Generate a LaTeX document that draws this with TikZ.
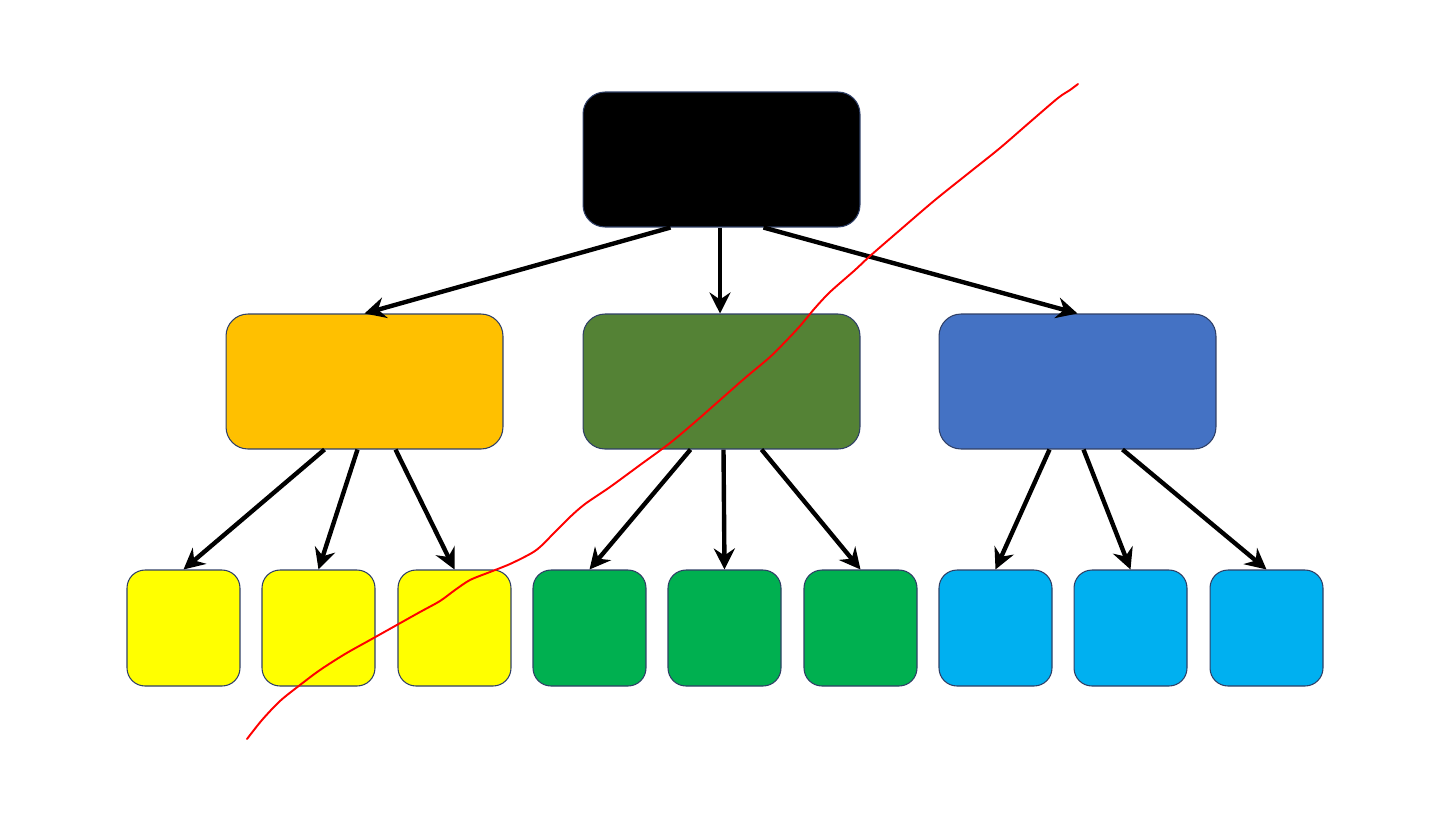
\documentclass[tikz,border=0pt]{standalone}
\usepackage{tikz}
\usetikzlibrary{arrows.meta}
\definecolor{treeedge}{HTML}{2F3F66}
\definecolor{treeorange}{HTML}{FFC000}
\definecolor{treegreen}{HTML}{548235}
\definecolor{treeblue}{HTML}{4472C4}
\definecolor{leafyellow}{HTML}{FFFF00}
\definecolor{leafgreen}{HTML}{00B050}
\definecolor{leafcyan}{HTML}{00B0F0}
\definecolor{scribble}{HTML}{FF0000}

\begin{document}
\begin{tikzpicture}[
        x=0.02cm, y=-0.02cm,
        bigbox/.style={draw=treeedge, line width=0.6pt, rounded corners=0.44cm,
          minimum width=5.54cm, minimum height=2.7cm, inner sep=0pt},
        leafbox/.style={draw=treeedge, line width=0.6pt, rounded corners=0.36cm,
          minimum width=2.26cm, minimum height=2.32cm, inner sep=0pt},
        arr/.style={draw=black, line width=2.5pt,
          -{Stealth[length=0.42cm, width=0.42cm, inset=0.14cm]}},
      ]
      \useasboundingbox (0,0) rectangle (1456,819);

      % Top level
      \node[bigbox, fill=black] (root) at (721.5,159.5) {};

      % Middle level
      \node[bigbox, fill=treeorange] (orange) at (364.5,381.5) {};
      \node[bigbox, fill=treegreen] (green) at (721.5,381.5) {};
      \node[bigbox, fill=treeblue] (blue) at (1077.5,381.5) {};

      % Leaves
      \node[leafbox, fill=leafyellow] (yellowA) at (183.5,628) {};
      \node[leafbox, fill=leafyellow] (yellowB) at (318.5,628) {};
      \node[leafbox, fill=leafyellow] (yellowC) at (454.5,628) {};
      \node[leafbox, fill=leafgreen] (greenA) at (589.5,628) {};
      \node[leafbox, fill=leafgreen] (greenB) at (724.5,628) {};
      \node[leafbox, fill=leafgreen] (greenC) at (860.5,628) {};
      \node[leafbox, fill=leafcyan] (cyanA) at (995.5,628) {};
      \node[leafbox, fill=leafcyan] (cyanB) at (1130.5,628) {};
      \node[leafbox, fill=leafcyan] (cyanC) at (1266.5,628) {};

      % Arrows from the top
      \draw[arr] ([xshift=-1.02cm]root.south) -- (orange.north);
      \draw[arr] ([xshift=-0.03cm]root.south) -- ([xshift=-0.03cm]green.north);
      \draw[arr] ([xshift=0.84cm]root.south) -- (blue.north);

      % Arrows to the leaves
      \draw[arr] ([xshift=-0.8cm]orange.south) -- (yellowA.north);
      \draw[arr] ([xshift=-0.14cm]orange.south) -- (yellowB.north);
      \draw[arr] ([xshift=0.62cm]orange.south) -- (yellowC.north);
      \draw[arr] ([xshift=-0.62cm]green.south) -- (greenA.north);
      \draw[arr] ([xshift=0.04cm]green.south) -- (greenB.north);
      \draw[arr] ([xshift=0.8cm]green.south) -- (greenC.north);
      \draw[arr] ([xshift=-0.56cm]blue.south) -- (cyanA.north);
      \draw[arr] ([xshift=0.12cm]blue.south) -- (cyanB.north);
      \draw[arr] ([xshift=0.9cm]blue.south) -- (cyanC.north);

      % Red freehand stroke across the tree
      \draw[draw=scribble, line width=1.1pt, line cap=round] plot[smooth, tension=0.5] coordinates {
        (1078,84) (1070,90) (1058,98) (1030,122) (1000,148) (970,172)
        (935,200) (900,230) (870,256) (855,270) (830,292) (815,308)
        (800,326) (785,342) (770,357) (745,378) (720,400) (695,422)
        (670,443) (640,465) (610,487) (585,504) (570,517) (555,532)
        (540,547) (530,554) (510,564) (490,572) (470,580) (455,590)
        (440,601) (420,612) (395,626) (370,640) (345,654) (320,670)
        (300,685) (280,701) (262,720) (247,739)};
    \end{tikzpicture}
\end{document}
